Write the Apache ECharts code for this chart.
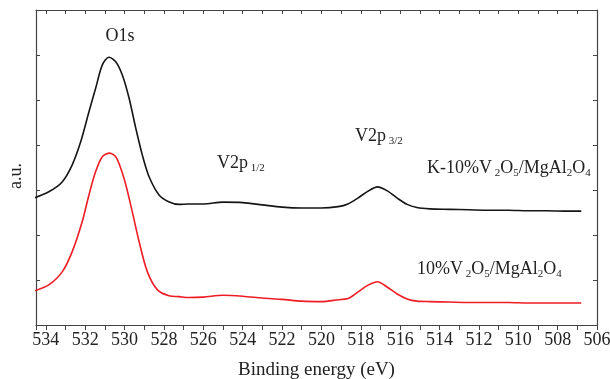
<!DOCTYPE html>
<html>
<head>
<meta charset="utf-8">
<script src="https://cdn.jsdelivr.net/npm/echarts@6/dist/echarts.min.js"></script>
<style>
html,body{margin:0;padding:0;background:#fff;}
#chart{width:610px;height:379px;}
</style>
</head>
<body>
<div id="chart"></div>
<script>
// K-10%V2O5/MgAl2O4 (black): binding energy (eV) and intensity (a.u., offset)
const blackEnergy = [534.56,533.85,533.17,532.66,532.23,531.81,531.47,531.13,530.79,530.45,530.12,529.77,529.43,529.10,528.76,528.25,527.76,527.23,526.75,526.0,525.0,524.0,523.0,522.0,521.0,520.0,519.15,518.65,518.15,517.65,517.15,516.65,516.15,515.65,515.15,514.5,513.5,512.5,511.5,510.5,509.5,508.5,507.5,506.8];
const blackValue  = [2.83,2.96,3.18,3.56,4.07,4.74,5.26,5.78,5.95,5.85,5.56,5.04,4.37,3.78,3.30,2.89,2.74,2.68,2.69,2.69,2.73,2.72,2.67,2.62,2.60,2.60,2.63,2.69,2.82,2.97,3.07,2.98,2.82,2.68,2.61,2.58,2.57,2.56,2.55,2.55,2.54,2.54,2.53,2.53];
// 10%V2O5/MgAl2O4 (red): binding energy (eV) and intensity (a.u., offset)
const redEnergy = [534.56,533.85,533.17,532.66,532.15,531.81,531.47,531.13,530.76,530.42,530.03,529.69,529.26,528.84,528.33,527.74,527.23,526.75,526.0,525.0,524.0,523.0,522.0,521.0,520.0,519.15,518.65,518.15,517.65,517.15,516.65,516.15,515.65,515.15,514.5,513.5,512.5,511.5,510.5,509.5,508.5,507.5,506.8];
const redValue  = [0.76,0.89,1.18,1.63,2.30,2.89,3.41,3.74,3.82,3.72,3.26,2.67,1.85,1.18,0.78,0.65,0.63,0.61,0.62,0.66,0.64,0.60,0.57,0.53,0.52,0.56,0.59,0.73,0.88,0.96,0.84,0.69,0.58,0.53,0.52,0.51,0.50,0.50,0.50,0.49,0.49,0.49,0.49];

const xMin = 506, xMax = 534.5;
const yMin = 0, yMax = 7;
const FONT = '"Liberation Serif", "DejaVu Serif", serif';
const TXT = '#222';
const AX = '#444';

const pair = (xs, ys) => xs.map((x, i) => [x, ys[i]]);

const chart = echarts.init(document.getElementById('chart'), null, {renderer: 'canvas'});

const richStyles = {
  m: {fontSize: 18, fontFamily: FONT, lineHeight: 22, fill: TXT},
  s: {fontSize: 11, fontFamily: FONT, lineHeight: 6, verticalAlign: 'bottom', fill: TXT}
};

function richText(x, y, text, align) {
  return {
    type: 'text', x: x, y: y, silent: true,
    style: {text: text, align: align || 'left', verticalAlign: 'middle', rich: richStyles, fontFamily: FONT, fill: TXT}
  };
}

chart.setOption({
  animation: false,
  backgroundColor: '#fff',
  grid: {left: 36, right: 13, top: 10, bottom: 54, containLabel: false, outerBoundsMode: 'none'},
  xAxis: [
    {
      type: 'value', position: 'bottom', min: xMin, max: xMax, interval: 1, inverse: true,
      axisLine: {show: true, onZero: false, lineStyle: {color: AX, width: 1.2}},
      axisTick: {show: true, inside: false, length: 5, lineStyle: {color: AX}},
      axisLabel: {show: true, margin: 6, fontSize: 18, fontFamily: FONT, color: TXT,
        formatter: v => (Math.abs(v % 2) < 1e-9 ? String(v) : '')},
      splitLine: {show: false},
      name: 'Binding energy (eV)', nameLocation: 'middle', nameGap: 36,
      nameTextStyle: {fontSize: 19, fontFamily: FONT, color: TXT}
    },
    {
      type: 'value', position: 'top', min: xMin, max: xMax, interval: 1, inverse: true,
      axisLine: {show: true, onZero: false, lineStyle: {color: AX, width: 1.2}},
      axisTick: {show: true, inside: true, length: 4, lineStyle: {color: AX}},
      axisLabel: {show: false}, splitLine: {show: false}
    }
  ],
  yAxis: [
    {
      type: 'value', position: 'left', min: yMin, max: yMax, interval: 1,
      axisLine: {show: true, onZero: false, lineStyle: {color: AX, width: 1.2}},
      axisTick: {show: true, inside: true, length: 4, lineStyle: {color: AX}},
      axisLabel: {show: false}, splitLine: {show: false}
    },
    {
      type: 'value', position: 'right', min: yMin, max: yMax, interval: 1,
      axisLine: {show: true, onZero: false, lineStyle: {color: AX, width: 1.2}},
      axisTick: {show: true, inside: true, length: 4, lineStyle: {color: AX}},
      axisLabel: {show: false}, splitLine: {show: false}
    }
  ],
  series: [
    {
      name: 'K-10%V2O5/MgAl2O4', type: 'line', xAxisIndex: 0, yAxisIndex: 0,
      data: pair(blackEnergy, blackValue), smooth: 0.3, showSymbol: false, clip: true,
      lineStyle: {color: '#151515', width: 1.6}, itemStyle: {color: '#151515'}
    },
    {
      name: '10%V2O5/MgAl2O4', type: 'line', xAxisIndex: 0, yAxisIndex: 0,
      data: pair(redEnergy, redValue), smooth: 0.3, showSymbol: false, clip: true,
      lineStyle: {color: '#ee1c24', width: 1.6}, itemStyle: {color: '#ee1c24'}
    }
  ],
  graphic: [
    richText(120, 36, '{m|O1s}', 'center'),
    richText(217, 163, '{m|V2p}{s| 1/2}'),
    richText(355, 136, '{m|V2p}{s| 3/2}'),
    richText(427, 168, '{m|K-10%V}{s| 2}{m|O}{s|5}{m|/MgAl}{s|2}{m|O}{s|4}'),
    richText(417, 269, '{m|10%V}{s| 2}{m|O}{s|5}{m|/MgAl}{s|2}{m|O}{s|4}'),
    {
      type: 'text', x: 16, y: 176, rotation: Math.PI / 2, silent: true,
      style: {text: 'a.u.', align: 'center', verticalAlign: 'middle', fontSize: 18, fontFamily: FONT, fill: TXT}
    }
  ]
});
</script>
</body>
</html>
